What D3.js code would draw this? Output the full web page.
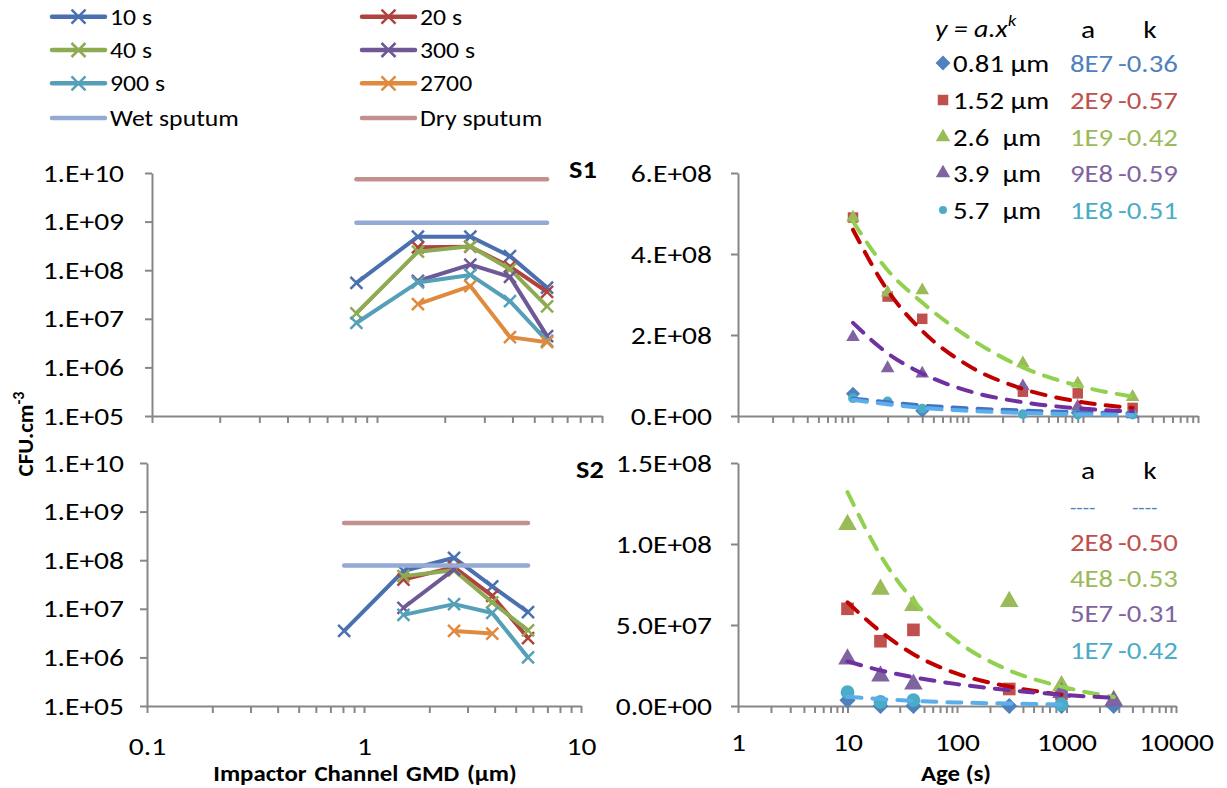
<!DOCTYPE html>
<html>
<head>
<meta charset="utf-8">
<title>CFU by impactor channel and aerosol age</title>
<style>
  body {margin:0; background:#fff}
  svg text {font-family: Carlito, Lato, sans-serif; fill:#000}
  .axis path, .axis line {stroke:#878787; stroke-width:2}
  .axis text {font-size:25px; font-family: Carlito, Lato, sans-serif}
  .pre {white-space: pre}
</style>
</head>
<body>
<script src="https://cdn.jsdelivr.net/npm/d3@7"></script>
<script>

// impactor channel GMD (µm)
const gmd = [0.81, 1.52, 2.6, 3.9, 5.7]
const gmdLabels = ['0.81 µm', '1.52 µm', '2.6  µm', '3.9  µm', '5.7  µm']

// aerosol age (s)
const ages = [10, 20, 40, 300, 900, 2700]
const ageLabels = ['10 s', '20 s', '40 s', '300 s', '900 s', '2700']

// CFU.cm-3 : one row per age, one column per channel (null = no count)
const s1 = [
  [5.5e7, 4.9e8, 4.9e8, 1.95e8, 4.4e7],
  [null, 2.95e8, 3.05e8, 1.18e8, 3.6e7],
  [1.3e7, 2.4e8, 3.1e8, 1.05e8, 1.8e7],
  [null, 6.0e7, 1.3e8, 7.3e7, 4.4e6],
  [8.2e6, 5.6e7, 8.0e7, 2.3e7, 3.5e6],
  [null, 2.0e7, 4.7e7, 4.2e6, 3.3e6]
]
const s2 = [
  [3.5e6, 6.0e7, 1.12e8, 2.9e7, 8.5e6],
  [0, 4.0e7, 7.2e7, 1.85e7, 2.5e6],
  [0, 4.7e7, 6.2e7, 1.35e7, 3.6e6],
  [0, 1.05e7, 6.45e7, null, null],
  [0, 7.5e6, 1.25e7, 8.2e6, 1.0e6],
  [0, null, 3.5e6, 3.1e6, null]
]

// sputum reference levels [S1, S2]
const wetSputum = [9.5e8, 7.8e7]
const drySputum = [7.4e9, 5.8e8]

// power-law trend lines, one row per channel
const trendAges = [10, 20, 40, 100, 300, 900, 2700]
const s1Trend = [
  [4.3e7, 3.4e7, 2.6e7, 1.9e7, 1.35e7, 9.5e6, 6.5e6],
  [4.6e8, 3.1e8, 2.1e8, 1.25e8, 6.7e7, 3.6e7, 2.0e7],
  [4.8e8, 3.6e8, 2.8e8, 1.95e8, 1.2e8, 7.5e7, 4.8e7],
  [2.3e8, 1.55e8, 1.05e8, 6.2e7, 3.4e7, 1.9e7, 1.1e7],
  [4.0e7, 2.9e7, 2.0e7, 1.3e7, 7.5e6, 4.5e6, 2.6e6]
]
const s2Trend = [
  [null, null, null, null, null, null, null],
  [6.4e7, 4.6e7, 3.2e7, 2.0e7, 1.2e7, 7.0e6, null],
  [1.32e8, 9.3e7, 6.5e7, 4.0e7, 2.2e7, 1.2e7, 5.5e6],
  [2.75e7, 2.2e7, 1.78e7, 1.35e7, 9.8e6, 7.0e6, 5.0e6],
  [5.7e6, 4.3e6, 3.2e6, 2.2e6, 1.5e6, 9.0e5, null]
]

// fitted a and k as printed
const s1Fit = [['8E7', '-0.36'], ['2E9', '-0.57'], ['1E9', '-0.42'], ['9E8', '-0.59'], ['1E8', '-0.51']]
const s2Fit = [['----', '----'], ['2E8', '-0.50'], ['4E8', '-0.53'], ['5E7', '-0.31'], ['1E7', '-0.42']]

const ageColors = ['#4A70B0', '#AE4340', '#8DAB52', '#6E5896', '#55A0B8', '#E08A3E']
const wetColor = '#94AAD4', dryColor = '#C4908E'
const gmdColors = ['#4F81BD', '#C0504D', '#9BBB59', '#8064A2', '#4BACC6']
const trendColors = ['#4472C4', '#C00000', '#92D050', '#7030A0', '#5AAEEA']
const symbols = [d3.symbolSquare, d3.symbolSquare, d3.symbolTriangle, d3.symbolTriangle, d3.symbolCircle]

// the original figure is a little wider than tall, text included
const SX = 1.18

const svg = d3.select('body').append('svg').attr('width', 1227).attr('height', 788)

const xL1 = d3.scaleLog().domain([0.1, 10]).range([152, 602])
const yL1 = d3.scaleLog().domain([1e5, 1e10]).range([416, 173])
const xL2 = d3.scaleLog().domain([0.1, 10]).range([147, 581])
const yL2 = d3.scaleLog().domain([1e5, 1e10]).range([706, 463])
const xR1 = d3.scaleLog().domain([1, 1e4]).range([738, 1198])
const yR1 = d3.scaleLinear().domain([0, 6e8]).range([416, 173])
const xR2 = d3.scaleLog().domain([1, 1e4]).range([738, 1176])
const yR2 = d3.scaleLinear().domain([0, 1.5e8]).range([706, 463])

function sci (d, dec) {
  if (d === 0) return (dec ? '0.' + '0'.repeat(dec) : '0.') + 'E+00'
  const e = Math.floor(Math.log10(d) + 1e-9)
  const m = d / Math.pow(10, e)
  return (dec ? m.toFixed(dec) : m.toFixed(0) + '.') + 'E+' + String(e).padStart(2, '0')
}

// write a text at (x, y), widened by SX
function label (x, y, str, size, sx = SX) {
  return svg.append('text')
    .attr('transform', `translate(${x},${y}) scale(${sx},1)`)
    .attr('dominant-baseline', 'central')
    .attr('font-size', size)
    .text(str)
}

function widen (g) {
  g.selectAll('.tick text').each(function () {
    const t = d3.select(this)
    t.attr('x', (+t.attr('x') || 0) / SX).attr('transform', `scale(${SX},1)`)
  })
}

function xAxis (x, y0, decades, labels, pad) {
  svg.append('g').attr('class', 'axis')
    .attr('transform', `translate(0,${y0})`)
    .call(d3.axisBottom(x).tickValues(x.ticks()).tickSize(7).tickSizeOuter(0).tickPadding(pad)
      .tickFormat(d => labels && decades.includes(d) ? String(d) : ''))
    .call(widen)
}

function yAxis (y, x0, vals, fmt, pad) {
  svg.append('g').attr('class', 'axis')
    .attr('transform', `translate(${x0},0)`)
    .call(d3.axisLeft(y).tickValues(vals).tickSize(7).tickSizeOuter(0).tickPadding(pad).tickFormat(fmt))
    .call(widen)
}

const cross = 'M-6,-6L6,6M-6,6L6,-6'

function logPanel (x, y, rows, k, showLabels, pad) {
  xAxis(x, y.range()[0], [0.1, 1, 10], showLabels, 24)
  yAxis(y, x.range()[0], [1e5, 1e6, 1e7, 1e8, 1e9, 1e10], d => '1.E+' + String(Math.round(Math.log10(d))).padStart(2, '0'), pad)

  const line = d3.line().x(d => x(d.g)).y(d => y(d.v))
  rows.forEach((row, i) => {
    const pts = gmd.map((g, j) => ({g, v: row[j]})).filter(d => d.v != null && d.v > 0)
    svg.append('path').attr('d', line(pts))
      .attr('fill', 'none').attr('stroke', ageColors[i]).attr('stroke-width', 4)
      .attr('stroke-linejoin', 'round')
    svg.selectAll(null).data(pts).join('path')
      .attr('d', cross)
      .attr('transform', d => `translate(${x(d.g)},${y(d.v)})`)
      .attr('stroke', ageColors[i]).attr('stroke-width', 2.5).attr('fill', 'none')
  })

  const ends = [gmd[0], gmd[gmd.length - 1]]
  ;[[drySputum[k], dryColor], [wetSputum[k], wetColor]].forEach(([v, c]) => {
    svg.append('line')
      .attr('x1', x(ends[0])).attr('x2', x(ends[1]))
      .attr('y1', y(v)).attr('y2', y(v))
      .attr('stroke', c).attr('stroke-width', 4.5).attr('stroke-linecap', 'round')
  })
}

function marker (sel, i, size) {
  sel.attr('d', d3.symbol(symbols[i], size)())
    .attr('fill', gmdColors[i])
}

function agePanel (x, y, rows, trend, yVals, dec, showLabels, sizes) {
  xAxis(x, y.range()[0], [1, 10, 100, 1000, 10000], showLabels, 20)
  yAxis(y, x.range()[0], yVals, d => sci(d, dec), 19)

  gmd.forEach((g, j) => {
    const pts = ages.map((a, i) => ({a, v: rows[i][j]})).filter(d => d.v != null)
    svg.selectAll(null).data(pts).join('path')
      .call(marker, j, sizes[j])
      .attr('transform', d => `translate(${x(d.a)},${y(d.v)})` + (j === 0 ? ' rotate(45)' : ''))
  })

  const line = d3.line().defined(d => d.v != null)
    .x(d => x(d.a)).y(d => y(d.v)).curve(d3.curveMonotoneX)
  trend.forEach((row, j) => {
    const pts = trendAges.map((a, i) => ({a, v: row[i]}))
    if (!pts.some(d => d.v != null)) return
    svg.append('path').attr('d', line(pts))
      .attr('fill', 'none').attr('stroke', trendColors[j]).attr('stroke-width', 4)
      .attr('stroke-dasharray', '14,11').attr('stroke-linecap', 'round')
  })
}

logPanel(xL1, yL1, s1, 0, false, 21)
logPanel(xL2, yL2, s2, 1, true, 16)
agePanel(xR1, yR1, s1, s1Trend, [0, 2e8, 4e8, 6e8], 0, false, [100, 110, 80, 80, 75])
agePanel(xR2, yR2, s2, s2Trend, [0, 5e7, 1e8, 1.5e8], 1, true, [130, 160, 150, 150, 150])

// panel names
label(569, 170, 'S1', 24).attr('font-weight', 'bold')
label(576, 470, 'S2', 24).attr('font-weight', 'bold')

// axis titles
label(365, 773, 'Impactor Channel GMD (µm)', 23, 1.08)
  .attr('text-anchor', 'middle').attr('font-weight', 'bold').attr('word-spacing', 2)
label(956, 773, 'Age (s)', 23, 1.08)
  .attr('text-anchor', 'middle').attr('font-weight', 'bold')
const yt = svg.append('text').attr('transform', 'translate(33,434) rotate(-90)')
  .attr('text-anchor', 'middle').attr('font-size', 23).attr('font-weight', 'bold')
yt.append('tspan').text('CFU.cm')
yt.append('tspan').attr('dy', -9).attr('font-size', 16).text('-3')

// left legend
const legItems = ageLabels.map((t, i) => ({t, c: ageColors[i], mark: true}))
  .concat([{t: 'Wet sputum', c: wetColor, mark: false}, {t: 'Dry sputum', c: dryColor, mark: false}])
const legRows = [16.7, 50, 83.3, 118]
const legCols = [52, 362]
legItems.forEach((d, i) => {
  const lx = legCols[i % 2], ly = legRows[Math.floor(i / 2)]
  svg.append('line').attr('x1', lx).attr('x2', lx + 53).attr('y1', ly).attr('y2', ly)
    .attr('stroke', d.c).attr('stroke-width', 4.5).attr('stroke-linecap', 'round')
  if (d.mark) {
    svg.append('path').attr('d', 'M-7,-7L7,7M-7,7L7,-7').attr('transform', `translate(${lx + 26.5},${ly})`)
      .attr('stroke', d.c).attr('stroke-width', 2.5)
  }
  label(lx + 58, ly, d.t, 22, 1.17)
})

// right legend (S1)
const eq = label(935, 29, null, 25, 1.12).attr('font-style', 'italic')
eq.append('tspan').text('y = a.x')
eq.append('tspan').attr('dy', -9).attr('font-size', 17).text('k')

function fitHeader (y) {
  label(1088, y, 'a', 25).attr('text-anchor', 'middle')
  label(1150, y, 'k', 25).attr('text-anchor', 'middle')
}
fitHeader(29)
fitHeader(470)

const fitRows1 = [63, 100, 137, 173, 210]
const fitRows2 = [508, 542, 578, 613, 650]
gmdLabels.forEach((t, j) => {
  const ly = fitRows1[j]
  svg.append('path').call(marker, j, [110, 110, 90, 90, 50][j])
    .attr('transform', `translate(943,${ly})` + (j === 0 ? ' rotate(45)' : ''))
  label(953, ly, t, 25, 1.15).attr('class', 'pre')
})
;[[s1Fit, fitRows1], [s2Fit, fitRows2]].forEach(([fit, rows]) => {
  fit.forEach(([a, k], j) => {
    const dash = a === '----'
    label(1070, rows[j], a, dash ? 18 : 25, 1.15).style('fill', gmdColors[j])
    label(dash ? 1132 : 1118, rows[j], k, dash ? 18 : 25, 1.15).style('fill', gmdColors[j])
  })
})

</script>
</body>
</html>
